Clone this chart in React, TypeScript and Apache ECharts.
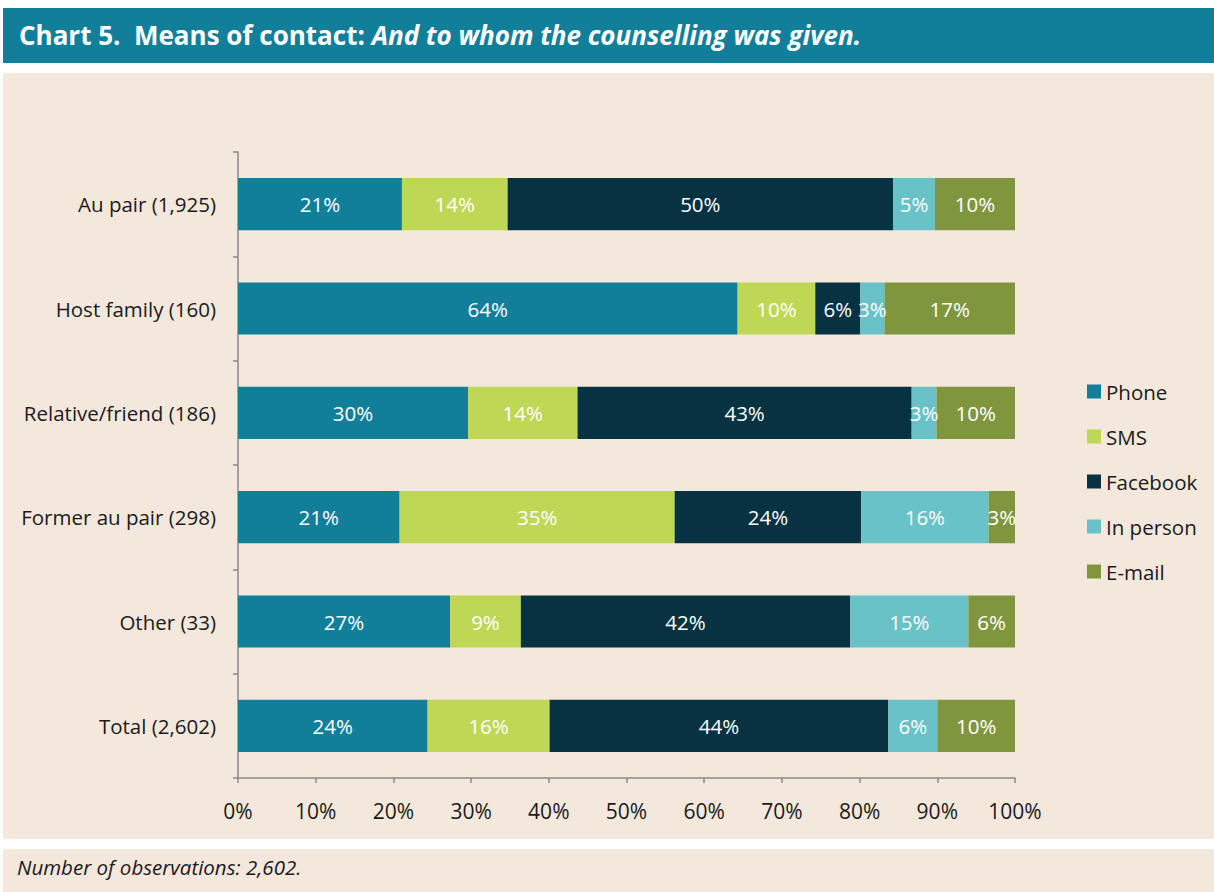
import React, { useEffect, useRef } from "react";
import * as echarts from "echarts";

const categories = [
  "Au pair (1,925)",
  "Host family (160)",
  "Relative/friend (186)",
  "Former au pair (298)",
  "Other (33)",
  "Total (2,602)",
];
const seriesNames = ["Phone", "SMS", "Facebook", "In person", "E-mail"];
const phone = [21.1, 64.3, 29.6, 20.8, 27.3, 24.4];
const sms = [13.6, 10.0, 14.1, 35.4, 9.1, 15.7];
const facebook = [49.6, 5.8, 43.0, 24.0, 42.4, 43.6];
const inPerson = [5.4, 3.1, 3.2, 16.4, 15.2, 6.3];
const email = [10.3, 16.8, 10.1, 3.4, 6.0, 10.0];
const xTicks = [0, 10, 20, 30, 40, 50, 60, 70, 80, 90, 100];
const colors = ["#127F9A", "#BED754", "#073241", "#68C2C7", "#80963E"];

const titleBold = "Chart 5.  Means of contact: ";
const titleItalic = "And to whom the counselling was given.";
const footnote = "Number of observations: 2,602.";

const FONT = "'Open Sans', 'Noto Sans', sans-serif";

export default function App() {
  const ref = useRef<HTMLDivElement>(null);
  useEffect(() => {
    document.body.style.margin = "0";
    const chart = echarts.init(ref.current!, undefined, { renderer: "svg" });
    const data = [phone, sms, facebook, inPerson, email];
    chart.setOption({
      animation: false,
      backgroundColor: "#FFFFFF",
      textStyle: { fontFamily: FONT },
      graphic: [
        { type: "rect", z: -10, shape: { x: 3, y: 8, width: 1211, height: 55 }, style: { fill: "#127F9A" } },
        { type: "rect", z: -10, shape: { x: 3, y: 73, width: 1211, height: 766 }, style: { fill: "#F4E8DC" } },
        { type: "rect", z: -10, shape: { x: 3, y: 849, width: 1211, height: 43 }, style: { fill: "#F4E8DC" } },
        {
          type: "text",
          left: 19,
          top: 22,
          style: {
            text: "{b|" + titleBold + "}{i|" + titleItalic + "}",
            rich: {
              b: { fontFamily: FONT, fontSize: 26, fontWeight: "bold", fill: "#FFFFFF" },
              i: { fontFamily: FONT, fontSize: 26, fontWeight: "bold", fontStyle: "italic", fill: "#FFFFFF" },
            },
          },
        },
        {
          type: "text",
          left: 17,
          top: 857,
          style: { text: footnote, fontFamily: FONT, fontSize: 20.5, fontStyle: "italic", fill: "#1A1A1A" },
        },
      ],
      legend: {
        orient: "vertical",
        left: 1082,
        top: 376,
        itemWidth: 14,
        itemHeight: 14,
        itemGap: 24,
        icon: "rect",
        textStyle: { fontSize: 20.5, color: "#1A1A1A", fontFamily: FONT },
        data: seriesNames,
      },
      grid: { left: 238, right: 199, top: 152, bottom: 114, containLabel: false },
      xAxis: {
        type: "value",
        min: 0,
        max: 100,
        interval: 10,
        axisLine: { show: true, lineStyle: { color: "#8A8A8A", width: 1.5 } },
        axisTick: { show: true, length: 5, lineStyle: { color: "#8A8A8A", width: 1.5 } },
        splitLine: { show: false },
        axisLabel: {
          margin: 22,
          fontSize: 21,
          color: "#1A1A1A",
          fontFamily: FONT,
          formatter: (v: number) => (xTicks.includes(v) ? v + "%" : ""),
        },
      },
      yAxis: {
        type: "category",
        inverse: true,
        data: categories,
        axisLine: { show: true, lineStyle: { color: "#8A8A8A", width: 1.5 } },
        axisTick: { show: true, length: 5, lineStyle: { color: "#8A8A8A", width: 1.5 } },
        axisLabel: { margin: 22, fontSize: 20.5, color: "#1A1A1A", fontFamily: FONT },
      },
      series: seriesNames.map((name, i) => ({
        name,
        type: "bar",
        stack: "total",
        barWidth: "50%",
        itemStyle: { color: colors[i] },
        label: {
          show: true,
          position: "inside",
          color: "#FFFFFF",
          fontSize: 20.5,
          fontFamily: FONT,
          formatter: (p: any) => Math.round(p.value) + "%",
        },
        data: data[i],
      })),
    });
    return () => chart.dispose();
  }, []);
  return <div ref={ref} style={{ width: 1214, height: 892 }} />;
}
